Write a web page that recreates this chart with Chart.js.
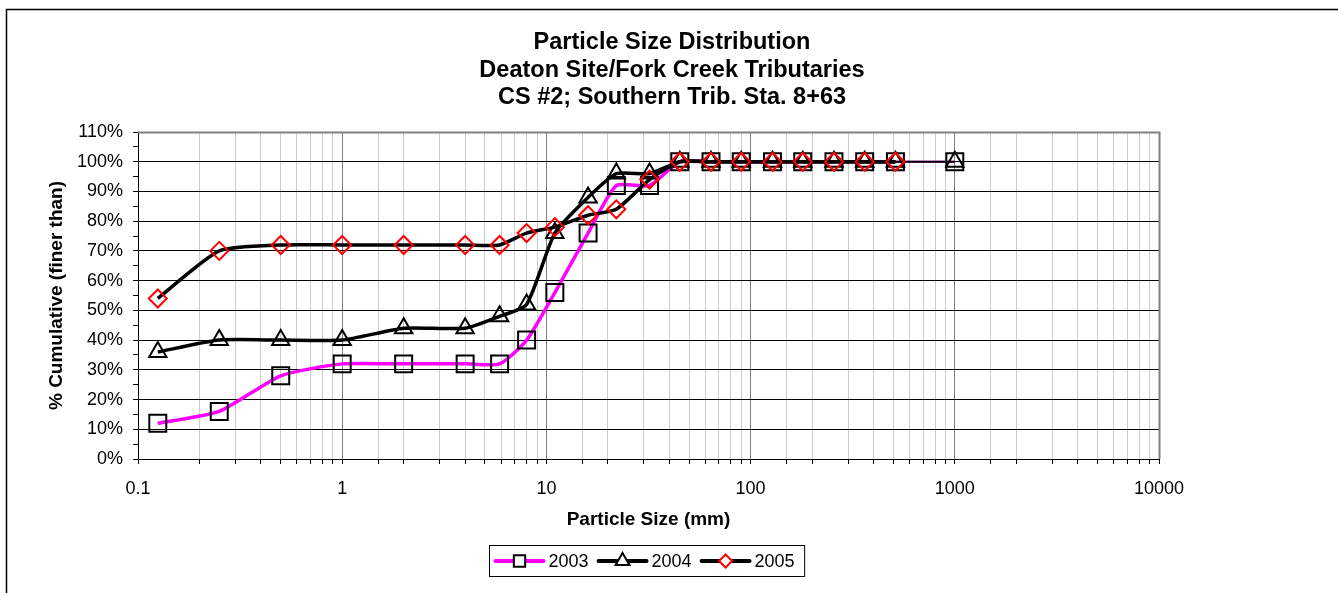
<!DOCTYPE html>
<html>
<head>
<meta charset="utf-8">
<script src="https://cdn.jsdelivr.net/npm/chart.js@4.4.0/dist/chart.umd.min.js"></script>
<style>
  html, body { margin: 0; padding: 0; background: #fff; }
  #wrap { position: relative; width: 1338px; height: 593px; }
</style>
</head>
<body>
<div id="wrap"><canvas id="psd"></canvas></div>
<script>
// sieve sizes (mm) and % finer for each survey year
const sizes = [0.125, 0.25, 0.5, 1, 2, 4, 5.9, 8, 11, 16, 22, 32, 45, 64, 90, 128, 180, 256, 362, 512, 1000];
const pct2003 = [12, 16, 28, 32, 32, 32, 32, 40, 56, 76, 92, 92, 100, 100, 100, 100, 100, 100, 100, 100, 100];
const pct2004 = [36, 40, 40, 40, 44, 44, 48, 52, 76, 88, 96, 96, 100, 100, 100, 100, 100, 100, 100, 100, 100];
const pct2005 = [54, 70, 72, 72, 72, 72, 72, 76, 78, 82, 84, 94, 100, 100, 100, 100, 100, 100, 100, 100, null];
const titleLines = ["Particle Size Distribution", "Deaton Site/Fork Creek Tributaries", "CS #2; Southern Trib. Sta. 8+63"];

const FONT = "'Liberation Sans', Arial, sans-serif";

function pts(vals) {
  const out = [];
  vals.forEach((v, i) => { if (v !== null) out.push({ x: sizes[i], y: v }); });
  return out;
}

// last segment out to 1000 mm is drawn thin in the original
function thinLast(n) {
  return { borderWidth: ctx => ctx.p1DataIndex === n - 1 ? 2 : undefined };
}

const isDecade = v => Math.abs(Math.log10(v) - Math.round(Math.log10(v))) < 1e-9;

const frame = {
  id: 'frame',
  beforeDraw(chart) {
    const c = chart.ctx;
    c.save();
    c.fillStyle = '#fff';
    c.fillRect(0, 0, chart.width, chart.height);
    c.strokeStyle = '#000';
    c.lineWidth = 1.5;
    c.strokeRect(6.5, 9.5, chart.width + 10, chart.height + 10);
    // title, centred on the chart frame
    c.fillStyle = '#000';
    c.font = "bold 23.5px " + FONT;
    c.textAlign = 'center';
    c.textBaseline = 'middle';
    const cx = (6 + chart.width) / 2;
    titleLines.forEach((t, i) => c.fillText(t, cx, 43 + i * 27.5));
    c.restore();
  },
  afterDatasetsDraw(chart) {
    const a = chart.chartArea, c = chart.ctx;
    c.save();
    c.strokeStyle = '#808080';
    c.lineWidth = 2;
    c.beginPath();
    c.moveTo(a.left, a.top + 0.5);
    c.lineTo(a.right + 0.5, a.top + 0.5);
    c.lineTo(a.right + 0.5, a.bottom);
    c.stroke();
    c.restore();
  }
};

function drawMarker(c, style, x, y, r) {
  if (style === 'rect') {
    const s = r * Math.SQRT1_2;
    c.rect(x - s, y - s, 2 * s, 2 * s);
  } else if (style === 'triangle') {
    c.moveTo(x, y - r);
    c.lineTo(x + r * 0.866, y + r * 0.5);
    c.lineTo(x - r * 0.866, y + r * 0.5);
    c.closePath();
  } else {
    c.moveTo(x, y - r);
    c.lineTo(x + r, y);
    c.lineTo(x, y + r);
    c.lineTo(x - r, y);
    c.closePath();
  }
}

const legendBox = {
  id: 'legendBox',
  afterDraw(chart) {
    const c = chart.ctx, a = chart.chartArea;
    c.save();
    c.font = "18px " + FONT;
    const lineW = 48, gap = 5, between = 10, padL = 6, padR = 10;
    const sets = chart.data.datasets;
    const widths = sets.map(d => c.measureText(d.label).width);
    const total = padL + padR + widths.reduce((s, w) => s + lineW + gap + w, 0) + between * (sets.length - 1);
    const cx = (a.left + a.right) / 2;
    const x0 = Math.round(cx - total / 2) - 1.5, y0 = 545.5, h = 31;
    c.strokeStyle = '#000';
    c.lineWidth = 1;
    c.strokeRect(x0, y0, total, h);
    const my = y0 + h / 2;
    let x = x0 + padL;
    sets.forEach((d, i) => {
      c.strokeStyle = d.borderColor;
      c.lineWidth = 4;
      c.lineCap = 'round';
      c.beginPath();
      c.moveTo(x, my);
      c.lineTo(x + lineW, my);
      c.stroke();
      c.fillStyle = '#fff';
      c.strokeStyle = d.pointBorderColor;
      c.lineWidth = 2;
      c.beginPath();
      drawMarker(c, d.pointStyle, x + lineW / 2, my, d.legendRadius);
      c.fill();
      c.stroke();
      c.fillStyle = '#000';
      c.textBaseline = 'middle';
      c.textAlign = 'left';
      c.fillText(d.label, x + lineW + gap, my + 1);
      x += lineW + gap + widths[i] + between;
    });
    c.restore();
  }
};

new Chart(document.getElementById('psd'), {
  type: 'line',
  data: {
    datasets: [
      {
        label: '2003',
        data: pts(pct2003),
        borderColor: '#ff00ff',
        borderWidth: 3.5,
        pointStyle: 'rect',
        pointRadius: 12,
        legendRadius: 8,
        pointBorderColor: '#000',
        pointBorderWidth: 2,
        pointBackgroundColor: 'rgba(0,0,0,0)',
        tension: 0.2,
        segment: thinLast(pct2003.filter(v => v !== null).length),
        order: 3
      },
      {
        label: '2004',
        data: pts(pct2004),
        borderColor: '#000',
        borderWidth: 3.5,
        pointStyle: 'triangle',
        pointRadius: 10,
        legendRadius: 8,
        pointBorderColor: '#000',
        pointBorderWidth: 2,
        pointBackgroundColor: 'rgba(0,0,0,0)',
        tension: 0.2,
        segment: thinLast(pct2004.filter(v => v !== null).length),
        order: 2
      },
      {
        label: '2005',
        data: pts(pct2005),
        borderColor: '#000',
        borderWidth: 3.5,
        pointStyle: 'rectRot',
        pointRadius: 9,
        legendRadius: 6.5,
        pointBorderColor: '#ff0000',
        pointBorderWidth: 2,
        pointBackgroundColor: 'rgba(0,0,0,0)',
        tension: 0.2,
        order: 1
      }
    ]
  },
  options: {
    responsive: true,
    maintainAspectRatio: false,
    animation: false,
    events: [],
    layout: { padding: { left: 45, right: 179, top: 132, bottom: 62 } },
    plugins: {
      legend: { display: false },
      tooltip: { enabled: false },
      title: { display: false }
    },
    scales: {
      x: {
        type: 'logarithmic',
        min: 0.1,
        max: 10000,
        afterFit: s => { s.height = 72; },
        border: { color: '#000', width: 1 },
        grid: {
          color: ctx => isDecade(ctx.tick.value) ? '#808080' : '#cccccc',
          tickColor: '#000',
          tickLength: 5
        },
        ticks: {
          autoSkip: false,
          maxRotation: 0,
          padding: 14,
          color: '#000',
          font: { family: FONT, size: 18 },
          callback: v => isDecade(v) ? String(v) : ''
        },
        title: {
          display: true,
          text: 'Particle Size (mm)',
          color: '#000',
          font: { family: FONT, size: 19, weight: 'bold', lineHeight: 1.2 },
          padding: 0
        }
      },
      y: {
        min: 0,
        max: 110,
        afterFit: s => { s.width = 93; },
        border: { color: '#000', width: 1 },
        grid: {
          color: ctx => ctx.tick.value === 110 ? '#808080' : (ctx.tick.value % 10 === 0 ? '#000' : 'rgba(0,0,0,0)'),
          tickColor: '#000',
          tickLength: 5
        },
        ticks: {
          stepSize: 5,
          autoSkip: false,
          padding: 10,
          color: '#000',
          font: { family: FONT, size: 18 },
          callback: v => v % 10 === 0 ? v + '%' : ''
        },
        title: {
          display: true,
          text: '% Cumulative (finer than)',
          color: '#000',
          font: { family: FONT, size: 19, weight: 'bold', lineHeight: 1.2 },
          padding: 0
        }
      }
    }
  },
  plugins: [frame, legendBox]
});
</script>
</body>
</html>
